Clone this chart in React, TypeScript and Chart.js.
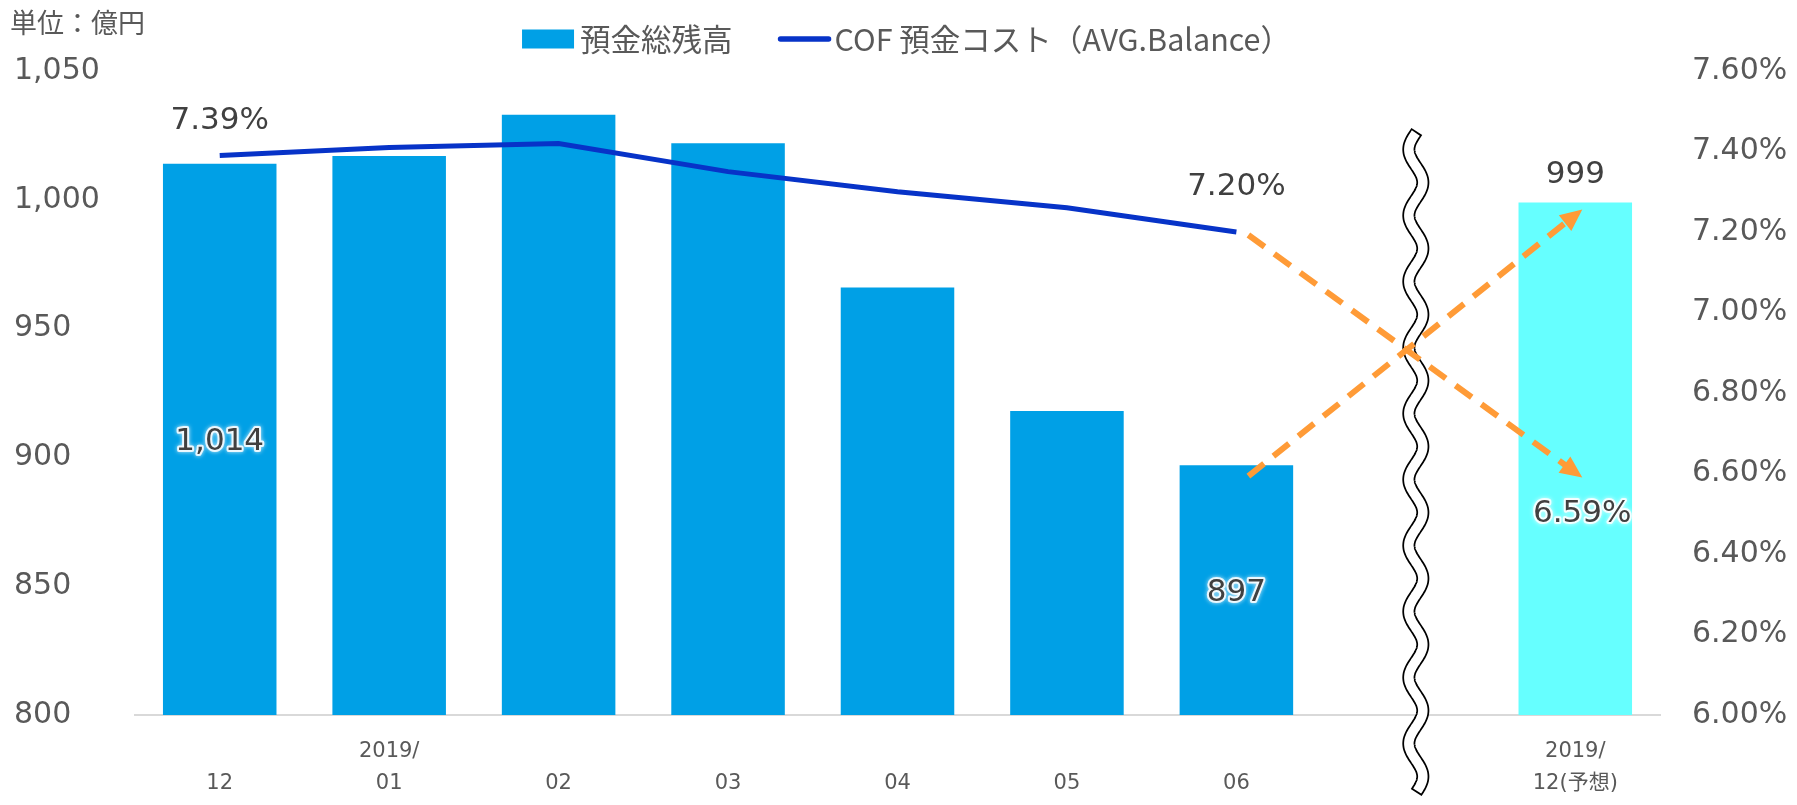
import React, { useEffect, useRef } from 'react';
import { Chart, registerables } from 'chart.js';

Chart.register(...registerables);

// ---------- data ----------
const categories: (string | string[])[] = [
  ['', '12'],
  ['2019/', '01'],
  ['', '02'],
  ['', '03'],
  ['', '04'],
  ['', '05'],
  ['', '06'],
  '',
  ['2019/', '12(予想)'],
];
const balance: (number | null)[] = [1014, 1017, 1033, 1022, 966, 918, 897, null, 999];
const cofRate: (number | null)[] = [7.39, 7.41, 7.42, 7.35, 7.3, 7.26, 7.2, null, null];
const cofForecast: (number | null)[] = [null, null, null, null, null, null, null, null, 6.59];

const legendLabels = ['預金総残高', 'COF 預金コスト（AVG.Balance）'];
const unitLabel = '単位：億円';

const leftMin = 800;
const leftMax = 1050;
const leftStep = 50;
const rightMin = 6.0;
const rightMax = 7.6;
const rightStep = 0.2;

const forecastIndex = 8;
const breakIndex = 7;
const arrowFromIndex = 6;
const balanceLabelIndices = [0, 6, 8];
const cofLabelIndices = [0, 6];

// ---------- styles ----------
const BAR_COLOR = '#00A0E6';
const FORECAST_COLOR = '#66FFFF';
const LINE_COLOR = '#0733C8';
const ORANGE = '#FF9B37';
const TICK_COLOR = '#595959';
const LABEL_COLOR = '#404040';
const NUM_FONT = '"DejaVu Sans", "Noto Sans CJK JP", sans-serif';
const JP_FONT = '"Noto Sans CJK JP", sans-serif';

function glowText(ctx: CanvasRenderingContext2D, text: string, x: number, y: number) {
  ctx.save();
  ctx.lineJoin = 'round';
  ctx.shadowColor = 'rgba(255,255,255,0.9)';
  ctx.shadowBlur = 4;
  ctx.strokeStyle = 'rgba(255,255,255,0.85)';
  ctx.lineWidth = 4;
  ctx.strokeText(text, x, y);
  ctx.restore();
  ctx.fillText(text, x, y);
}

function drawArrow(ctx: CanvasRenderingContext2D, x1: number, y1: number, x2: number, y2: number) {
  const ang = Math.atan2(y2 - y1, x2 - x1);
  const c = Math.cos(ang);
  const s = Math.sin(ang);
  const headLen = 22;
  const headHalf = 10;
  const bx = x2 - headLen * c;
  const by = y2 - headLen * s;
  ctx.save();
  ctx.strokeStyle = ORANGE;
  ctx.fillStyle = ORANGE;
  ctx.lineWidth = 6;
  ctx.lineCap = 'butt';
  ctx.setLineDash([20, 12]);
  ctx.beginPath();
  ctx.moveTo(x1, y1);
  ctx.lineTo(bx + 2 * c, by + 2 * s);
  ctx.stroke();
  ctx.setLineDash([]);
  ctx.beginPath();
  ctx.moveTo(x2, y2);
  ctx.lineTo(bx - headHalf * s, by + headHalf * c);
  ctx.lineTo(bx + headHalf * s, by - headHalf * c);
  ctx.closePath();
  ctx.fill();
  ctx.restore();
}

const overlayPlugin = {
  id: 'overlay',
  afterDatasetsDraw(chart: any) {
    const { ctx, chartArea, scales, width } = chart;
    const xs = scales.x;
    const yl = scales.y;
    const yr = scales.y1;
    ctx.save();

    // ---- wavy break line ----
    const cx = xs.getPixelForValue(breakIndex) + 10;
    const top = chartArea.top + 62;
    const bottom = chartArea.bottom + 76;
    const amp = 7;
    const period = 66;
    const wave = (y0: number, y1: number) => {
      ctx.beginPath();
      let first = true;
      for (let y = y0; y <= y1 + 0.001; y += 1) {
        const x = cx - amp * Math.sin((2 * Math.PI * (y - top)) / period);
        if (first) {
          ctx.moveTo(x, y);
          first = false;
        } else ctx.lineTo(x, y);
      }
      ctx.stroke();
    };
    ctx.lineCap = 'butt';
    ctx.lineJoin = 'round';
    ctx.strokeStyle = '#000000';
    ctx.lineWidth = 13;
    wave(top - 1.5, bottom + 1.5);
    ctx.strokeStyle = '#FFFFFF';
    ctx.lineWidth = 9.5;
    wave(top, bottom);

    // ---- forecast arrows ----
    const xa = xs.getPixelForValue(arrowFromIndex) + 12;
    const xb = xs.getPixelForValue(forecastIndex) + 7;
    drawArrow(
      ctx,
      xa,
      yr.getPixelForValue(cofRate[arrowFromIndex] as number) + 3,
      xb,
      yr.getPixelForValue(cofForecast[forecastIndex] as number)
    );
    drawArrow(
      ctx,
      xa,
      yl.getPixelForValue(balance[arrowFromIndex] as number) + 11,
      xb,
      yl.getPixelForValue(balance[forecastIndex] as number) + 7
    );

    // ---- data labels ----
    ctx.font = `31px ${NUM_FONT}`;
    ctx.textAlign = 'center';
    ctx.textBaseline = 'middle';
    ctx.fillStyle = LABEL_COLOR;

    balanceLabelIndices.forEach((i) => {
      const v = balance[i] as number;
      const x = xs.getPixelForValue(i);
      const text = v.toLocaleString('en-US');
      if (i === forecastIndex) {
        ctx.fillText(text, x, yl.getPixelForValue(v) - 27);
      } else {
        const yMid = (yl.getPixelForValue(v) + yl.getPixelForValue(leftMin)) / 2;
        glowText(ctx, text, x, yMid + 3);
      }
    });

    const cofOffsets: Record<number, number> = { 0: -35, 6: -45 };
    cofLabelIndices.forEach((i) => {
      const v = cofRate[i] as number;
      ctx.fillText(v.toFixed(2) + '%', xs.getPixelForValue(i), yr.getPixelForValue(v) + (cofOffsets[i] ?? -38));
    });

    const fv = cofForecast[forecastIndex] as number;
    glowText(ctx, fv.toFixed(2) + '%', xs.getPixelForValue(forecastIndex) + 7, yr.getPixelForValue(fv) + 36);

    // ---- unit label ----
    ctx.font = `27px ${JP_FONT}`;
    ctx.textAlign = 'left';
    ctx.fillStyle = TICK_COLOR;
    ctx.fillText(unitLabel, 10, 23);

    // ---- legend ----
    ctx.font = `30.5px ${JP_FONT}`;
    const boxW = 52;
    const gapText = 6;
    const gapItem = 46;
    const w1 = ctx.measureText(legendLabels[0]).width;
    const w2 = ctx.measureText(legendLabels[1]).width;
    const total = boxW + gapText + w1 + gapItem + boxW + 4 + w2;
    let lx = width / 2 - total / 2 + 8;
    const ly = 39;
    ctx.fillStyle = BAR_COLOR;
    ctx.fillRect(lx, ly - 9.5, boxW, 19);
    lx += boxW + gapText;
    ctx.fillStyle = TICK_COLOR;
    ctx.fillText(legendLabels[0], lx, ly);
    lx += w1 + gapItem;
    ctx.strokeStyle = LINE_COLOR;
    ctx.lineWidth = 5.5;
    ctx.lineCap = 'round';
    ctx.beginPath();
    ctx.moveTo(lx + 2, ly);
    ctx.lineTo(lx + boxW - 2, ly);
    ctx.stroke();
    lx += boxW + 4;
    ctx.fillText(legendLabels[1], lx, ly);

    ctx.restore();
  },
};

export default function App() {
  const ref = useRef<HTMLCanvasElement>(null);

  useEffect(() => {
    document.body.style.margin = '0';
    const canvas = ref.current;
    if (!canvas) return;
    const chart = new Chart(canvas, {
      type: 'bar',
      data: {
        labels: categories as any,
        datasets: [
          {
            type: 'line',
            label: legendLabels[1],
            data: cofRate,
            yAxisID: 'y1',
            borderColor: LINE_COLOR,
            backgroundColor: LINE_COLOR,
            borderWidth: 5,
            pointRadius: 0,
            pointHoverRadius: 0,
            tension: 0,
            spanGaps: false,
            order: 1,
          } as any,
          {
            type: 'bar',
            label: legendLabels[0],
            data: balance,
            yAxisID: 'y',
            backgroundColor: categories.map((_, i) => (i === forecastIndex ? FORECAST_COLOR : BAR_COLOR)),
            borderWidth: 0,
            barPercentage: 0.67,
            categoryPercentage: 1,
            order: 2,
          } as any,
        ],
      },
      options: {
        responsive: false,
        animation: false,
        events: [],
        layout: { padding: { top: 71, left: 14, right: 0, bottom: 0 } },
        plugins: {
          legend: { display: false },
          title: { display: false },
          tooltip: { enabled: false },
        },
        scales: {
          x: {
            grid: { display: false, drawTicks: false },
            border: { display: true, color: '#D9D9D9', width: 2 },
            ticks: {
              color: TICK_COLOR,
              font: { family: NUM_FONT, size: 21, lineHeight: 1.5 },
              padding: 21,
              maxRotation: 0,
              autoSkip: false,
            },
            afterFit: (scale: any) => {
              scale.height = 90;
            },
          },
          y: {
            position: 'left',
            min: leftMin,
            max: leftMax,
            grid: { display: false, drawTicks: false },
            border: { display: false },
            ticks: {
              stepSize: leftStep,
              color: TICK_COLOR,
              font: { family: NUM_FONT, size: 30 },
              crossAlign: 'far',
              padding: 0,
              callback: (v: any) => Number(v).toLocaleString('en-US'),
            },
            afterFit: (scale: any) => {
              scale.width = 121;
            },
          },
          y1: {
            position: 'right',
            min: rightMin,
            max: rightMax,
            grid: { display: false, drawTicks: false },
            border: { display: false },
            ticks: {
              stepSize: rightStep,
              color: TICK_COLOR,
              font: { family: NUM_FONT, size: 30 },
              padding: 32,
              callback: (v: any) => Number(v).toFixed(2) + '%',
            },
            afterFit: (scale: any) => {
              scale.width = 137;
            },
          },
        },
      } as any,
      plugins: [overlayPlugin],
    });
    return () => chart.destroy();
  }, []);

  return (
    <div style={{ width: 1797, height: 805 }}>
      <canvas ref={ref} width={1797} height={805} style={{ display: 'block' }} />
    </div>
  );
}
